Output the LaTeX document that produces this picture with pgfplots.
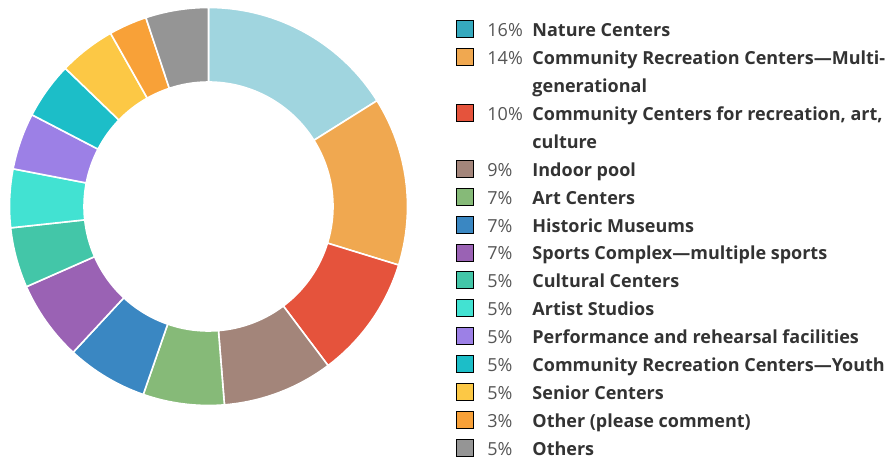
\documentclass[border=0pt]{standalone}
\usepackage{pgfplots}
\usepackage{pgfplotstable}
\pgfplotsset{compat=1.18}
\usepackage{fontspec}
\setmainfont{Open Sans}
\definecolor{cA}{HTML}{A0D5DF}
\definecolor{lA}{HTML}{35A9BE}
\definecolor{cB}{HTML}{F0A850}
\definecolor{cC}{HTML}{E5533C}
\definecolor{cD}{HTML}{A3857A}
\definecolor{cE}{HTML}{86BA78}
\definecolor{cF}{HTML}{3A87C2}
\definecolor{cG}{HTML}{9A62B4}
\definecolor{cH}{HTML}{43C6A8}
\definecolor{cI}{HTML}{42E2D2}
\definecolor{cJ}{HTML}{9C80E6}
\definecolor{cK}{HTML}{1CBEC8}
\definecolor{cL}{HTML}{FCC845}
\definecolor{cM}{HTML}{F8A138}
\definecolor{cN}{HTML}{959595}
\definecolor{pctgray}{HTML}{555555}
\definecolor{namegray}{HTML}{333333}
\pgfplotstableread{
name val col
Nature 16.1 cA
Multi 13.7 cB
Comm 10.0 cC
Pool 9.0 cD
Art 6.6 cE
Hist 6.6 cF
Sports 6.5 cG
Cult 4.9 cH
Studio 4.75 cI
Perf 4.6 cJ
Youth 4.6 cK
Senior 4.6 cL
Other 3.1 cM
Others 5.1 cN
}\donut
\newcommand\entry[2]{\makebox[22.5pt][l]{\color{pctgray}#1}\parbox[t]{250pt}{\strut\bfseries\color{namegray}#2\strut}}
\begin{document}
\begin{tikzpicture}
\begin{axis}[name=ax, x=0.5pt, y=0.5pt, xmin=0, xmax=890, ymin=-460, ymax=0,
  hide axis, clip=false, scale only axis,
  legend image code/.code={\fill[#1] (0pt,-0.5pt) rectangle (8.5pt,8pt); \path[draw=none,fill=none] (0pt,0pt) -- (15.5pt,0pt);},
  every axis legend/.style={at={(0.5124,0.9626)}, anchor=north west, draw=none, fill=none,
    inner sep=0pt, outer sep=0pt, row sep=0pt, column sep=0pt,
    cells={anchor=base west, inner sep=0pt, outer sep=0pt},
    nodes={inner sep=0pt, outer sep=0pt, text depth=},
    font=\fontsize{9}{13.95}\selectfont},
]
\pgfplotstablegetrowsof{\donut}\pgfmathtruncatemacro\nrows{\pgfplotsretval-1}
\def\total{0}
\pgfplotsforeachungrouped \i in {0,...,\nrows}{%
  \pgfplotstablegetelem{\i}{val}\of\donut
  \pgfmathsetmacro\total{\total+\pgfplotsretval}}
\def\angA{90}
\pgfplotsforeachungrouped \i in {0,...,\nrows}{%
  \pgfplotstablegetelem{\i}{val}\of\donut \let\sliceval\pgfplotsretval
  \pgfplotstablegetelem{\i}{col}\of\donut \let\slicecol\pgfplotsretval
  \pgfmathsetmacro\angB{\angA-\sliceval/\total*360}
  \edef\temp{\noexpand\filldraw[fill=\slicecol, draw=white, line width=0.8pt, line join=round]
     (axis cs:208.5,-206.5) ++(\angA:99.5pt) arc[start angle=\angA, end angle=\angB, radius=99.5pt]
     -- ++(\angB:-37.25pt) arc[start angle=\angB, end angle=\angA, radius=62.25pt] -- cycle;}
  \temp
  \global\let\angA\angB
}
\addlegendimage{fill=lA}\addlegendentry{\entry{16\%}{Nature Centers}}
\addlegendimage{fill=cB}\addlegendentry{\entry{14\%}{Community Recreation Centers---Multi-\newline generational}}
\addlegendimage{fill=cC}\addlegendentry{\entry{10\%}{Community Centers for recreation, art,\newline culture}}
\addlegendimage{fill=cD}\addlegendentry{\entry{9\%}{Indoor pool}}
\addlegendimage{fill=cE}\addlegendentry{\entry{7\%}{Art Centers}}
\addlegendimage{fill=cF}\addlegendentry{\entry{7\%}{Historic Museums}}
\addlegendimage{fill=cG}\addlegendentry{\entry{7\%}{Sports Complex---multiple sports}}
\addlegendimage{fill=cH}\addlegendentry{\entry{5\%}{Cultural Centers}}
\addlegendimage{fill=cI}\addlegendentry{\entry{5\%}{Artist Studios}}
\addlegendimage{fill=cJ}\addlegendentry{\entry{5\%}{Performance and rehearsal facilities}}
\addlegendimage{fill=cK}\addlegendentry{\entry{5\%}{Community Recreation Centers---Youth}}
\addlegendimage{fill=cL}\addlegendentry{\entry{5\%}{Senior Centers}}
\addlegendimage{fill=cM}\addlegendentry{\entry{3\%}{Other (please comment)}}
\addlegendimage{fill=cN}\addlegendentry{\entry{5\%}{Others}}
\end{axis}
\pgfresetboundingbox
\path[use as bounding box] (ax.south west) rectangle (ax.north east);
\end{tikzpicture}
\end{document}
